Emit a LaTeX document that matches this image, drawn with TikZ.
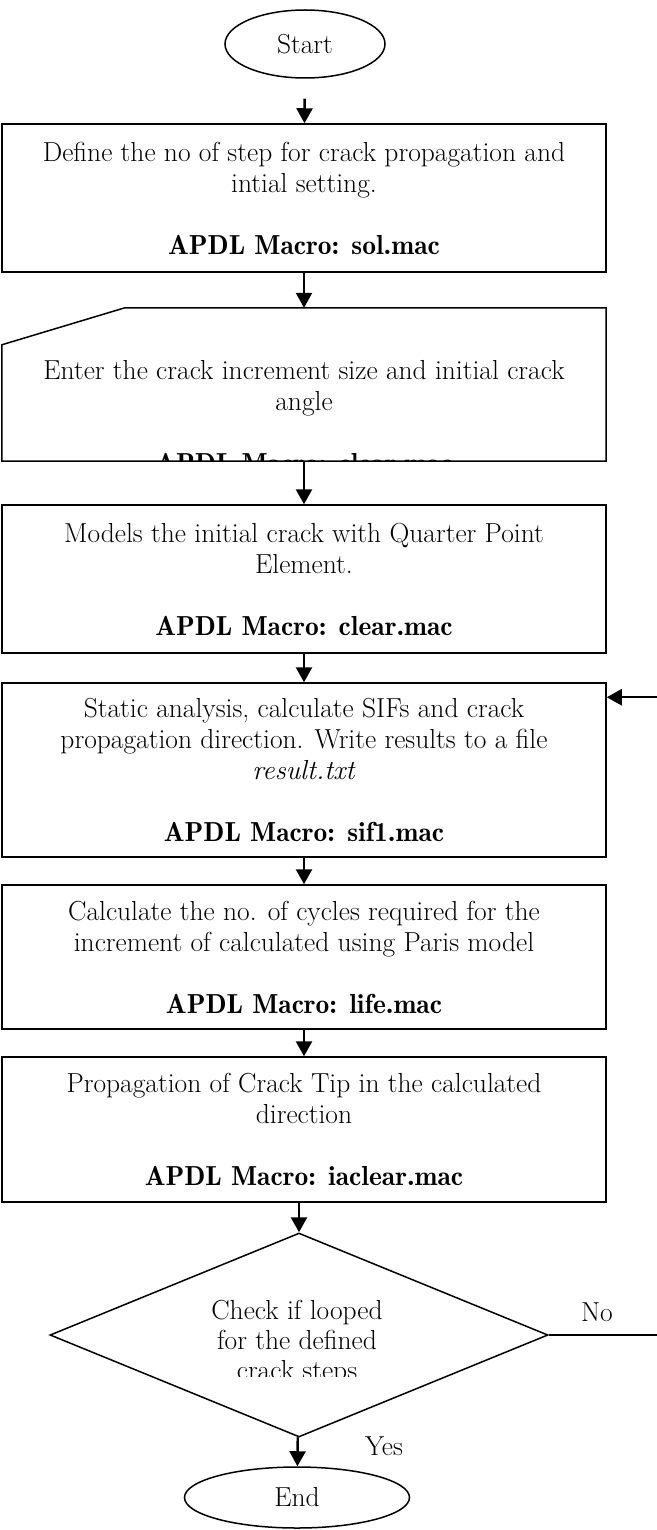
\documentclass[tikz,border=0pt]{standalone}
\usepackage{tikz}
\usetikzlibrary{shapes.geometric,arrows.meta}

\newcommand{\macro}[1]{{\fontseries{b}\selectfont APDL Macro: #1}}

\begin{document}
\begin{tikzpicture}[x={(1pt,0pt)}, y={(0pt,-1pt)},
  every node/.style={font=\fontsize{27.5pt}{31pt}\selectfont},
  box/.style={draw,rectangle,line width=1.5pt,minimum width=604pt,align=center,inner sep=0pt},
  term/.style={draw,ellipse,line width=1.5pt,inner sep=0pt},
  decision/.style={draw,diamond,line width=1.5pt,minimum width=498pt,minimum height=204pt,inner sep=0pt},
  flow/.style={-{Triangle[length=15pt,width=16pt]},line width=2.4pt}]
  \useasboundingbox (0,0) rectangle (656,1530);

  % Nodes
  \node[term,minimum width=160pt,minimum height=68pt] (Start) at (305,44) {Start};

  \node[box,minimum height=148pt] (Define) at (304,198) {Define the no of step for crack propagation and\\ intial setting.\\[31pt] \macro{sol.mac}};

  \node[minimum width=604pt,minimum height=153pt,inner sep=0pt] (Enter) at (304,384.5) {};
  \begin{scope}
    \clip (Enter.south west) rectangle (Enter.north east);
    \node[align=center,inner sep=0pt] (EnterText) at (304,417) {Enter the crack increment size and initial crack\\ angle\\[31pt] \macro{clear.mac}};
  \end{scope}
  \draw[line width=1.5pt] (Enter.south west) -- ([yshift=-37pt]Enter.north west) -- ([xshift=123pt]Enter.north west) -- (Enter.north east) -- (Enter.south east) -- cycle;

  \node[box,minimum height=148pt] (Models) at (304,579) {Models the initial crack with Quarter Point\\ Element.\\[31pt] \macro{clear.mac}};

  \node[box,minimum height=174pt] (Static) at (304,770) {Static analysis, calculate SIFs and crack\\ propagation direction. Write results to a file\\ \textit{result.txt}\\[31pt] \macro{sif1.mac}};

  \node[box,minimum height=144pt] (Calc) at (304,957) {Calculate the no. of cycles required for the\\ increment of calculated using Paris model\\[31pt] \macro{life.mac}};

  \node[box,minimum height=145pt] (Prop) at (304,1129.5) {Propagation of Crack Tip in the calculated\\ direction\\[31pt] \macro{iaclear.mac}};

  \node[decision] (Check) at (299,1335) {};
  \begin{scope}
    \clip (0,1230) rectangle (656,1376);
    \node[align=center,inner sep=0pt] (CheckText) at (297,1343) {Check if looped\\[-1pt] for the defined\\[-1pt] crack steps};
  \end{scope}

  \node[term,minimum width=225pt,minimum height=61pt] (End) at (297,1497.5) {End};

  \node (No) at (597,1312) {No};
  \node (Yes) at (384,1446) {Yes};
  \coordinate (Back) at (690,1335);

  % Edges
  \draw[flow,shorten <=20pt] (Start) -- (Define);
  \draw[flow] (Define) -- (Enter);
  \draw[flow] (Enter) -- (Models);
  \draw[flow] (Models) -- (Static);
  \draw[flow] (Static) -- (Calc);
  \draw[flow] (Calc) -- (Prop);
  \draw[flow] (Prop.south -| Check.north) -- (Check.north);
  \draw[flow] (Check) -- (End);

  % Loop
  \draw[line width=1.5pt] (Check.east) -- (Back);
  \draw[flow] (Back) |- ([yshift=-15pt]Static.north east);
\end{tikzpicture}
\end{document}
